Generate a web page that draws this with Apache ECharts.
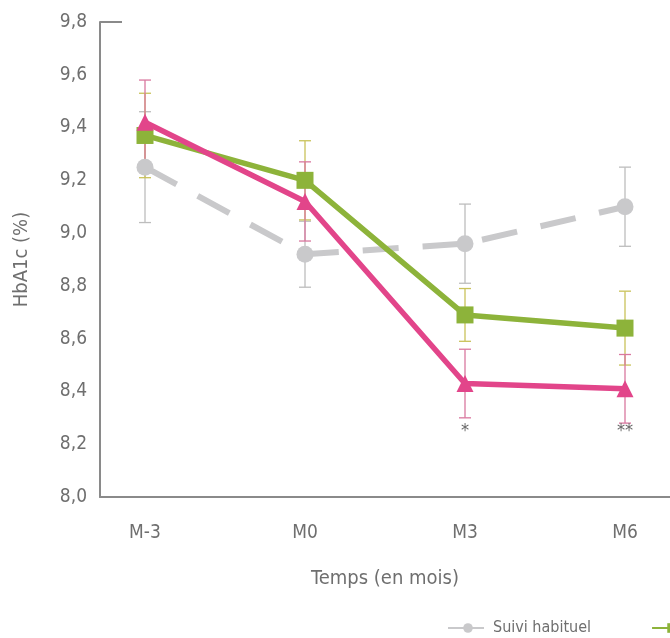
<!DOCTYPE html>
<html><head><meta charset="utf-8">
<script src="https://cdn.jsdelivr.net/npm/echarts@6/dist/echarts.min.js"></script>
<style>html,body{margin:0;padding:0;background:#fff}#c{width:670px;height:638px}</style>
</head><body><div id="c"></div>
<script>
var categories = ['M-3', 'M0', 'M3', 'M6'];
var yTicks = [8.0, 8.2, 8.4, 8.6, 8.8, 9.0, 9.2, 9.4, 9.6, 9.8];
var suiviName = 'Suivi habituel';
var suiviMean = [9.25, 8.92, 8.96, 9.10];
var suiviErr = [0.21, 0.125, 0.15, 0.15];
var greenName = 'Télésuivi';
var greenMean = [9.37, 9.20, 8.69, 8.64];
var greenErr = [0.16, 0.15, 0.10, 0.14];
var pinkName = 'Télésuivi + coaching';
var pinkMean = [9.42, 9.12, 8.43, 8.41];
var pinkErr = [0.16, 0.15, 0.13, 0.13];
var sigLabels = ['', '', '*', '**'];
var sigValue = 8.25;

var FONT = '"Liberation Sans Narrow","DejaVu Sans Condensed","Roboto",sans-serif';
function pts(arr){ return arr.map(function(v,i){ return [i, v]; }); }
function errs(m, e){ return m.map(function(v,i){ return [i, v - e[i], v + e[i]]; }); }
function errSeries(name, m, e, color){
  return {
    type: 'custom', name: name + '_err', silent: true, z: 1,
    data: errs(m, e),
    encode: { x: 0, y: [1, 2] },
    renderItem: function(params, api){
      var x = api.value(0);
      var lo = api.coord([x, api.value(1)]);
      var hi = api.coord([x, api.value(2)]);
      var w = 6;
      var st = { stroke: color, lineWidth: 1.3 };
      return { type: 'group', children: [
        { type: 'line', shape: { x1: lo[0], y1: lo[1], x2: hi[0], y2: hi[1] }, style: st },
        { type: 'line', shape: { x1: lo[0]-w, y1: lo[1], x2: lo[0]+w, y2: lo[1] }, style: st },
        { type: 'line', shape: { x1: hi[0]-w, y1: hi[1], x2: hi[0]+w, y2: hi[1] }, style: st }
      ]};
    }
  };
}

var chart = echarts.init(document.getElementById('c'));
chart.setOption({
  animation: false,
  backgroundColor: '#fff',
  textStyle: { fontFamily: FONT },
  grid: { left: 100, right: 0, top: 22, bottom: 141, containLabel: false },
  xAxis: {
    type: 'value', min: -0.28125, max: 3.28125,
    axisLine: { onZero: false, lineStyle: { color: '#8a8a8a', width: 2 } },
    axisTick: { show: false },
    splitLine: { show: false },
    axisLabel: { customValues: [0, 1, 2, 3], color: '#6f6f6f', fontSize: 19, margin: 27, fontFamily: FONT,
      formatter: function(v){ return categories[Math.round(v)]; } },
    name: 'Temps (en mois)', nameLocation: 'middle', nameGap: 72,
    nameTextStyle: { color: '#6f6f6f', fontSize: 20, fontFamily: FONT }
  },
  yAxis: {
    type: 'value', min: yTicks[0], max: yTicks[yTicks.length-1], interval: 0.2,
    axisLine: { show: true, onZero: false, lineStyle: { color: '#8a8a8a', width: 2 } },
    axisTick: { show: true, customValues: [9.8], inside: true, length: 22, lineStyle: { color: '#8a8a8a', width: 2 } },
    splitLine: { show: false },
    axisLabel: { color: '#6f6f6f', fontSize: 19, margin: 13, fontFamily: FONT,
      formatter: function(v){ return v.toFixed(1).replace('.', ','); } },
    name: 'HbA1c (%)', nameLocation: 'middle', nameGap: 68, nameRotate: 90,
    nameTextStyle: { color: '#6f6f6f', fontSize: 20, fontFamily: FONT }
  },
  legend: {
    left: 442, top: 615, width: 900, itemWidth: 40, itemHeight: 12, itemGap: 60,
    data: [suiviName, greenName, pinkName],
    textStyle: { color: '#6f6f6f', fontSize: 16, fontFamily: FONT }
  },
  series: [
    errSeries(suiviName, suiviMean, suiviErr, '#bdbdbd'),
    errSeries(greenName, greenMean, greenErr, '#c9c25a'),
    errSeries(pinkName, pinkMean, pinkErr, '#d9789f'),
    {
      type: 'line', name: suiviName, data: pts(suiviMean), z: 3,
      symbol: 'circle', symbolSize: 17,
      itemStyle: { color: '#c9c9cb' },
      lineStyle: { color: '#c9c9cb', width: 6, type: [36, 24] }
    },
    {
      type: 'line', name: greenName, data: pts(greenMean), z: 4,
      symbol: 'rect', symbolSize: 17,
      itemStyle: { color: '#8db33a' },
      lineStyle: { color: '#8db33a', width: 5.5 }
    },
    {
      type: 'line', name: pinkName, data: pts(pinkMean), z: 5,
      symbol: 'triangle', symbolSize: 17,
      itemStyle: { color: '#e2458a' },
      lineStyle: { color: '#e2458a', width: 5.5 }
    },
    {
      type: 'custom', name: 'sig', silent: true, z: 6,
      data: sigLabels.map(function(s,i){ return [i, sigValue, s]; }),
      renderItem: function(params, api){
        var p = api.coord([api.value(0), api.value(1)]);
        return { type: 'text', x: p[0], y: p[1], style: { text: sigLabels[params.dataIndex], fill: '#666', fontSize: 18, align: 'center', verticalAlign: 'middle', fontFamily: FONT } };
      }
    }
  ]
});
</script></body></html>
